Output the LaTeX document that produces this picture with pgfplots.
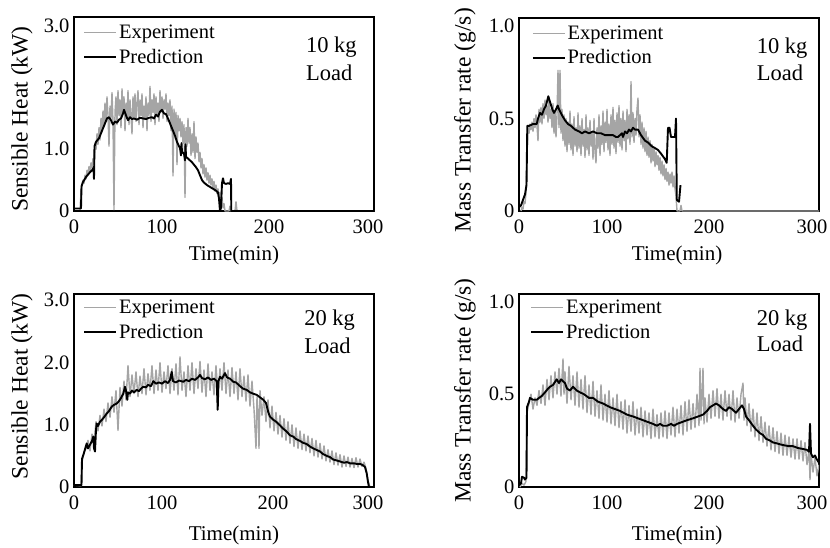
\documentclass[border=0pt]{standalone}
\usepackage{pgfplots}
\pgfplotsset{compat=1.18}
\usepackage{fontspec}
\setmainfont{Liberation Serif}
\definecolor{expgray}{RGB}{165,165,165}
\tikzset{ann/.style={anchor=base west, inner sep=0pt, font=\fontsize{22.5}{27}\selectfont}}
\pgfplotsset{
 panel/.style={
  scale only axis, width=300pt,
  xmin=0, xmax=300, ymin=0,
  axis line style={line width=1.2pt},
  major tick length=0pt,
  xtick={0,88,195,294}, xticklabels={0,100,200,300},
  /pgf/number format/assume math mode=true,
  tick label style={font=\fontsize{20.5}{24}\selectfont},
  xticklabel style={yshift=-5pt},
  yticklabel style={xshift=-1pt},
  xlabel={Time(min)},
  xlabel style={font=\fontsize{21}{25}\selectfont, anchor=center},
  ylabel style={font=\fontsize{23.5}{28}\selectfont, anchor=center},
  legend style={draw=none, fill=none, font=\fontsize{20.5}{24}\selectfont, anchor=north west, inner sep=0pt, row sep=4.5pt},
  legend cell align=left,
  legend image code/.code={\draw[##1] (0pt,0pt) -- (32pt,0pt);},
 },
 expline/.style={color=expgray, line width=1.4pt, line join=round},
 predline/.style={black, line width=1.9pt, line join=round},
}
\begin{document}
\begin{tikzpicture}
\useasboundingbox (0pt,0pt) rectangle (830pt,547pt);
% ---------------- top left
\begin{axis}[panel, at={(74pt,336pt)}, anchor=south west, height=194pt,
  ymax=3.144, ytick={0,1,2,3}, yticklabels={0,1.0,2.0,3.0},
  ylabel={Sensible Heat (kW)},
  xlabel style={at={(axis description cs:0.533,-0.227)}},
  ylabel style={at={(axis description cs:-0.173,0.474)}},
  legend style={at={(axis description cs:0.03,0.969)}}]
\addplot[expline] coordinates {
(6,0.02) (7,0.30) (8,0.42) (9,0.50) (10,0.45) (11,0.58) (12,0.52) (13,0.66) (14,0.58) (15,0.72) (16,0.64) (17,0.78) (18,0.70) (19,0.85) (20,0.75) (21,1.10) (22,1.00) (23,1.25) (24,1.08) (25,1.35) (26,1.15) (27,1.50) (28,1.28) (29,1.62) (30,1.40) (31,1.75) (32,1.45) (33,1.85) (34,1.55) (35,1.05) (36,1.70) (37,1.50) (38,1.92) (39,1.45) (40,0.02) (41,1.60) (42,1.85) (43,1.40) (44,1.95) (45,1.55) (46,1.80) (47,1.35) (48,1.98) (49,1.60) (50,1.85) (51,1.30) (52,1.75) (53,1.50) (54,1.95) (55,1.40) (56,1.80) (57,1.55) (58,1.25) (59,1.85) (60,1.50) (61,1.90) (62,1.45) (63,1.75) (64,1.95) (65,1.40) (66,1.80) (67,1.55) (68,1.90) (69,1.35) (70,1.70) (71,1.50) (72,1.85) (73,1.30) (74,1.75) (75,1.55) (76,2.02) (77,1.45) (78,1.80) (79,1.60) (80,1.90) (81,1.40) (82,1.85) (83,1.55) (84,1.75) (85,1.45) (86,1.95) (87,1.60) (88,1.85) (89,1.50) (90,1.80) (91,1.65) (92,1.90) (93,1.45) (94,1.75) (95,1.55) (96,1.80) (97,1.30) (98,1.70) (99,0.57) (100,1.65) (101,1.25) (102,1.60) (103,0.75) (104,1.55) (105,1.30) (106,1.50) (107,1.20) (108,1.45) (109,1.10) (110,1.40) (111,0.22) (112,1.35) (113,1.05) (114,1.50) (115,1.10) (116,1.35) (117,0.90) (118,1.25) (119,0.95) (120,1.45) (121,0.85) (122,1.20) (123,0.95) (124,1.10) (125,0.80) (126,0.95) (127,0.70) (128,0.85) (129,0.60) (130,0.75) (131,0.55) (132,0.70) (133,0.50) (134,0.62) (135,0.45) (136,0.58) (137,0.42) (138,0.52) (139,0.38) (140,0.48) (141,0.32) (142,0.42) (143,0.28) (144,0.36) (145,0.20) (146,0.30) (147,0.10) (148,0.22) (149,0.05) (150,0.12) (151,0.0) (155,0.0) (156,0.08) (157,0.0) (161,0.0) (162,0.15) (163,0.0) (300,0.0)
};
\addlegendentry{Experiment}
\addplot[predline] coordinates {
(0,0.04) (7,0.04) (7.5,0.40) (9,0.47) (12,0.55) (15,0.61) (18,0.66) (19.5,0.70) (20,0.52) (20.5,1.05) (22,1.12) (25,1.18) (28,1.30) (31,1.42) (33,1.50) (35,1.52) (37,1.47) (39,1.40) (41,1.45) (43,1.43) (45,1.48) (47,1.50) (49,1.58) (50,1.64) (52,1.55) (54,1.47) (56,1.52) (58,1.49) (60,1.50) (63,1.48) (66,1.51) (69,1.50) (72,1.49) (75,1.51) (78,1.52) (80,1.50) (82,1.56) (84,1.53) (86,1.61) (88,1.64) (90,1.58) (92,1.57) (94,1.50) (96,1.42) (99,1.30) (101,1.22) (103,1.12) (105,1.05) (106,1.02) (107,0.90) (107.5,1.10) (108,0.96) (110,0.93) (111,0.82) (111.5,1.08) (112,0.88) (114,0.85) (116,0.82) (118,0.79) (120,0.75) (122,0.71) (124,0.66) (126,0.58) (128,0.50) (130,0.46) (133,0.42) (136,0.39) (139,0.36) (142,0.33) (144,0.30) (145,0.20) (146,0.00) (147,0.05) (148,0.45) (149,0.53) (150,0.45) (152,0.44) (154,0.45) (156,0.44) (157,0.52) (157.3,0.0) (300,0.0)
};
\addlegendentry{Prediction}
\node[ann] at (rel axis cs:0.773,0.816) {10 kg};
\node[ann] at (rel axis cs:0.773,0.675) {Load};
\end{axis}
% ---------------- top right
\begin{axis}[panel, at={(519pt,336pt)}, anchor=south west, height=193pt,
  ymax=1.043, ytick={0,0.5,1}, yticklabels={0,0.5,1.0},
  xtick={0,88,190,293},
  ylabel={Mass Transfer rate (g/s)},
  xlabel style={at={(axis description cs:0.527,-0.228)}},
  ylabel style={at={(axis description cs:-0.18,0.47)}},
  legend style={at={(axis description cs:0.042,0.969)}}]
\addplot[expline] coordinates {
(2,0.0) (3,0.02) (4,0.01) (5,0.05) (6,0.04) (7,0.10) (8,0.30) (9,0.45) (10,0.42) (11,0.47) (12,0.44) (13,0.48) (14,0.43) (15,0.50) (16,0.45) (17,0.52) (18,0.46) (19,0.38) (20,0.55) (21,0.48) (22,0.56) (23,0.47) (24,0.58) (25,0.50) (26,0.60) (27,0.52) (28,0.57) (29,0.48) (30,0.60) (31,0.50) (32,0.55) (33,0.45) (34,0.58) (35,0.42) (36,0.54) (37,0.40) (38,0.52) (39,0.76) (40,0.45) (41,0.76) (42,0.42) (43,0.55) (44,0.38) (45,0.52) (46,0.35) (47,0.50) (48,0.32) (49,0.48) (50,0.36) (51,0.54) (52,0.33) (53,0.47) (54,0.30) (55,0.51) (56,0.35) (57,0.45) (58,0.32) (59,0.53) (60,0.34) (61,0.46) (62,0.30) (63,0.50) (64,0.35) (65,0.44) (66,0.29) (67,0.52) (68,0.33) (69,0.45) (70,0.30) (71,0.49) (72,0.35) (73,0.42) (74,0.28) (75,0.50) (76,0.32) (77,0.26) (78,0.45) (79,0.34) (80,0.52) (81,0.30) (82,0.46) (83,0.36) (84,0.54) (85,0.32) (86,0.48) (87,0.37) (88,0.55) (89,0.33) (90,0.47) (91,0.30) (92,0.52) (93,0.36) (94,0.56) (95,0.34) (96,0.49) (97,0.31) (98,0.53) (99,0.37) (100,0.57) (101,0.35) (102,0.50) (103,0.33) (104,0.54) (105,0.38) (106,0.49) (107,0.32) (108,0.55) (109,0.39) (110,0.52) (111,0.36) (112,0.70) (113,0.40) (114,0.53) (115,0.37) (116,0.50) (117,0.41) (118,0.55) (119,0.61) (120,0.40) (121,0.52) (122,0.36) (123,0.48) (124,0.34) (125,0.45) (126,0.32) (127,0.43) (128,0.30) (129,0.40) (130,0.29) (131,0.38) (132,0.26) (133,0.36) (134,0.27) (135,0.34) (136,0.24) (137,0.32) (138,0.25) (139,0.30) (140,0.22) (141,0.29) (142,0.20) (143,0.27) (144,0.19) (145,0.25) (146,0.17) (147,0.23) (148,0.16) (149,0.21) (150,0.14) (151,0.20) (152,0.15) (153,0.21) (154,0.13) (155,0.19) (156,0.12) (157,0.08) (158,0.0) (161,0.0) (162,0.03) (163,0.0) (300,0.0)
};
\addlegendentry{Experiment}
\addplot[predline] coordinates {
(0,0.02) (2,0.03) (4,0.06) (6,0.09) (7.5,0.14) (8.3,0.46) (10,0.46) (14,0.47) (17.7,0.47) (19,0.50) (21,0.53) (23,0.52) (25,0.55) (27,0.57) (29.3,0.62) (31,0.59) (33.3,0.55) (35,0.53) (37,0.55) (38.7,0.57) (40,0.55) (42.7,0.52) (46,0.49) (49,0.47) (52,0.46) (56,0.44) (60,0.43) (63,0.42) (66,0.43) (70,0.42) (74,0.43) (78,0.42) (82,0.42) (86,0.41) (90,0.41) (94,0.41) (97,0.40) (99,0.40) (101,0.41) (103,0.42) (104,0.40) (106,0.43) (108,0.42) (110,0.44) (112,0.43) (114,0.45) (116,0.44) (119,0.44) (122,0.41) (126,0.38) (129,0.37) (132.7,0.35) (136,0.34) (139,0.33) (142,0.31) (146,0.28) (147.7,0.26) (149,0.45) (150.5,0.45) (152,0.40) (156,0.40) (157,0.50) (157.8,0.06) (160,0.05) (161.5,0.14)
};
\addlegendentry{Prediction}
\node[ann] at (rel axis cs:0.792,0.816) {10 kg};
\node[ann] at (rel axis cs:0.792,0.675) {Load};
\end{axis}
% ---------------- bottom left
\begin{axis}[panel, at={(74pt,60pt)}, anchor=south west, height=193pt,
  ymax=3.10, ytick={0,1,2,3}, yticklabels={0,1.0,2.0,3.0},
  xtick={0,88,199,294},
  ylabel={Sensible Heat (kW)},
  xlabel style={at={(axis description cs:0.533,-0.249)}},
  ylabel style={at={(axis description cs:-0.173,0.52)}},
  legend style={at={(axis description cs:0.03,0.979)}}]
\addplot[expline] coordinates {
(0,0.03) (7,0.02) (8,0.40) (10,0.55) (12,0.62) (14,0.75) (16,0.58) (18,0.85) (20,0.70) (22,1.05) (24,0.90) (26,1.15) (28,0.98) (30,1.25) (32,1.05) (34,1.35) (36,1.12) (38,1.45) (40,1.20) (42,1.55) (44,0.91) (46,1.60) (48,1.30) (50,1.70) (52,1.40) (54,1.95) (56,1.45) (58,1.80) (60,1.50) (62,1.85) (64,1.45) (66,1.78) (68,1.50) (70,1.90) (72,1.48) (74,1.82) (76,1.55) (78,1.95) (80,1.50) (82,1.88) (84,1.55) (86,2.00) (88,1.52) (90,1.85) (92,1.58) (94,1.95) (96,1.50) (98,1.90) (100,1.55) (102,1.98) (104,1.48) (106,2.09) (108,1.55) (110,1.85) (112,1.45) (114,1.95) (116,1.55) (118,2.00) (120,1.50) (122,1.90) (124,1.58) (126,2.02) (128,1.52) (130,1.88) (132,1.45) (134,1.98) (136,1.55) (138,1.85) (140,1.48) (142,1.95) (144,1.50) (146,1.90) (148,1.55) (150,2.00) (152,1.50) (154,1.88) (156,1.45) (158,1.92) (160,1.50) (162,1.85) (164,1.40) (166,1.90) (168,1.45) (170,1.78) (172,1.38) (174,1.80) (176,1.30) (178,1.70) (180,1.25) (182,0.62) (183,1.45) (184,1.20) (185,0.62) (186,1.55) (188,1.15) (190,1.45) (192,1.05) (194,1.40) (196,0.95) (198,1.30) (200,0.90) (202,1.20) (204,0.85) (206,1.15) (208,0.80) (210,1.10) (212,0.75) (214,1.05) (216,0.70) (218,1.00) (220,0.65) (222,0.95) (224,0.62) (226,0.90) (228,0.60) (230,0.85) (232,0.58) (234,0.82) (236,0.55) (238,0.78) (240,0.50) (242,0.75) (244,0.48) (246,0.70) (248,0.45) (250,0.66) (252,0.42) (254,0.60) (256,0.40) (258,0.58) (260,0.36) (262,0.55) (264,0.35) (266,0.52) (268,0.32) (270,0.50) (272,0.33) (274,0.48) (276,0.32) (278,0.46) (280,0.31) (282,0.47) (284,0.32) (286,0.45) (288,0.33) (290,0.40) (292,0.30) (294,0.10) (296,0.0) (300,0.0)
};
\addlegendentry{Experiment}
\addplot[predline] coordinates {
(0,0.03) (7.5,0.03) (8,0.45) (10,0.55) (12.7,0.70) (14,0.62) (16,0.68) (18,0.74) (19.3,0.81) (20,0.62) (21,0.57) (22,0.92) (22.7,1.02) (24,0.98) (26,1.05) (28,1.08) (30,1.12) (32.7,1.18) (35,1.22) (37.7,1.29) (40,1.32) (42.7,1.34) (45,1.38) (47,1.43) (49.3,1.50) (51,1.61) (52,1.55) (53.3,1.40) (54,1.52) (56,1.50) (58,1.55) (60,1.52) (62.7,1.56) (65,1.54) (67,1.58) (69.3,1.61) (72,1.60) (74,1.64) (77,1.62) (79.3,1.70) (82,1.66) (85,1.68) (88,1.66) (91,1.70) (94,1.67) (96,1.72) (97.7,1.85) (99,1.70) (102,1.68) (105,1.71) (109.3,1.69) (112,1.72) (115,1.70) (118,1.74) (121,1.72) (124,1.76) (126,1.80) (128,1.75) (131,1.73) (134,1.76) (137,1.72) (140,1.74) (142.7,1.70) (143.7,1.24) (144.5,1.70) (146,1.77) (148,1.74) (151,1.83) (153,1.76) (156,1.74) (159.3,1.69) (162,1.68) (166,1.62) (169,1.58) (172.7,1.56) (176,1.52) (179,1.50) (182.7,1.48) (186,1.44) (189.3,1.40) (192,1.35) (194.3,1.20) (196,1.13) (199.3,1.08) (202,1.05) (206,0.99) (209,0.94) (212.7,0.89) (216,0.83) (219.3,0.81) (222,0.77) (226,0.74) (229,0.71) (232.7,0.69) (236,0.65) (239.3,0.62) (242,0.60) (246,0.57) (249,0.53) (252.7,0.50) (256,0.48) (259.3,0.44) (262,0.43) (266,0.41) (270,0.39) (273,0.40) (276,0.38) (280,0.38) (283,0.37) (286,0.37) (289,0.35) (291,0.32) (292.7,0.22) (294,0.08) (295,0.0) (300,0.0)
};
\addlegendentry{Prediction}
\node[ann] at (rel axis cs:0.767,0.839) {20 kg};
\node[ann] at (rel axis cs:0.767,0.693) {Load};
\end{axis}
% ---------------- bottom right
\begin{axis}[panel, at={(519pt,60pt)}, anchor=south west, height=193pt,
  ymax=1.04, ytick={0,0.5,1}, yticklabels={0,0.5,1.0},
  xtick={0,88,190,293},
  ylabel={Mass Transfer rate (g/s)},
  xlabel style={at={(axis description cs:0.527,-0.249)}},
  ylabel style={at={(axis description cs:-0.18,0.5)}},
  legend style={at={(axis description cs:0.037,0.979)}}]
\addplot[expline] coordinates {
(1,0.0) (3,0.02) (5,0.01) (7,0.03) (8,0.40) (10,0.45) (12,0.50) (14,0.42) (16,0.48) (18,0.44) (20,0.52) (22,0.45) (24,0.55) (26,0.44) (28,0.58) (30,0.47) (32,0.60) (34,0.48) (36,0.62) (38,0.50) (40,0.64) (42,0.49) (44,0.69) (45,0.50) (46,0.62) (48,0.45) (50,0.65) (52,0.47) (54,0.60) (56,0.44) (58,0.62) (60,0.43) (62,0.58) (64,0.42) (66,0.60) (68,0.40) (70,0.55) (72,0.39) (74,0.57) (76,0.38) (78,0.52) (80,0.37) (82,0.55) (84,0.36) (86,0.50) (88,0.35) (90,0.52) (92,0.34) (94,0.48) (96,0.33) (98,0.50) (100,0.32) (102,0.46) (104,0.31) (106,0.47) (108,0.29) (110,0.44) (112,0.30) (114,0.46) (116,0.28) (118,0.42) (120,0.29) (122,0.43) (124,0.27) (126,0.41) (128,0.28) (130,0.40) (132,0.26) (134,0.42) (136,0.27) (138,0.39) (140,0.26) (142,0.40) (144,0.27) (146,0.41) (148,0.26) (150,0.40) (152,0.28) (154,0.43) (156,0.27) (158,0.42) (160,0.29) (162,0.44) (164,0.28) (166,0.46) (168,0.30) (170,0.47) (172,0.31) (174,0.45) (176,0.32) (178,0.50) (180,0.33) (181,0.64) (182,0.36) (184,0.64) (185,0.34) (186,0.48) (188,0.35) (190,0.50) (192,0.37) (194,0.52) (196,0.38) (198,0.53) (200,0.37) (202,0.50) (204,0.36) (206,0.52) (208,0.38) (210,0.50) (212,0.36) (214,0.52) (216,0.35) (218,0.48) (220,0.37) (222,0.50) (224,0.56) (225,0.36) (226,0.48) (228,0.33) (230,0.45) (232,0.30) (234,0.42) (236,0.27) (238,0.40) (240,0.25) (242,0.38) (244,0.24) (246,0.35) (248,0.22) (250,0.33) (252,0.20) (254,0.32) (256,0.19) (258,0.30) (260,0.18) (262,0.29) (264,0.17) (266,0.28) (268,0.17) (270,0.27) (272,0.16) (274,0.26) (276,0.15) (278,0.26) (280,0.15) (282,0.25) (284,0.14) (286,0.24) (288,0.12) (290,0.20) (291,0.04) (292,0.18) (294,0.08) (296,0.16) (298,0.06) (300,0.12)
};
\addlegendentry{Experiment}
\addplot[predline] coordinates {
(0,0.01) (2,0.02) (3,0.055) (5,0.05) (6,0.04) (7.5,0.05) (8,0.43) (10,0.46) (11,0.48) (14,0.47) (17.7,0.47) (20,0.48) (22.7,0.49) (26,0.51) (29,0.53) (31,0.54) (34,0.55) (37.7,0.58) (40,0.56) (42,0.58) (44,0.57) (46,0.56) (48,0.53) (51,0.52) (54,0.54) (57.7,0.52) (61,0.51) (65,0.50) (70,0.48) (74,0.48) (79,0.46) (84,0.45) (91,0.43) (96,0.42) (101,0.41) (108,0.39) (114,0.38) (119,0.37) (124,0.36) (129,0.35) (134,0.34) (138,0.33) (141,0.34) (144,0.33) (148,0.33) (152,0.34) (155,0.33) (158,0.34) (163,0.35) (168,0.36) (174,0.37) (179,0.38) (184,0.39) (188,0.41) (191,0.43) (194,0.44) (197,0.45) (200,0.44) (204,0.42) (207,0.41) (210,0.43) (213,0.42) (217,0.40) (220,0.42) (223,0.44) (225,0.42) (227,0.38) (230,0.36) (234,0.33) (237,0.31) (241,0.29) (244,0.28) (247,0.26) (251,0.25) (254,0.24) (258,0.235) (261,0.23) (265,0.225) (270,0.22) (274,0.22) (279,0.21) (284,0.205) (288,0.20) (290,0.19) (291,0.34) (292,0.18) (294,0.16) (296,0.17) (297.7,0.15) (300,0.13)
};
\addlegendentry{Prediction}
\node[ann] at (rel axis cs:0.792,0.839) {20 kg};
\node[ann] at (rel axis cs:0.792,0.70) {Load};
\end{axis}
\end{tikzpicture}
\end{document}
